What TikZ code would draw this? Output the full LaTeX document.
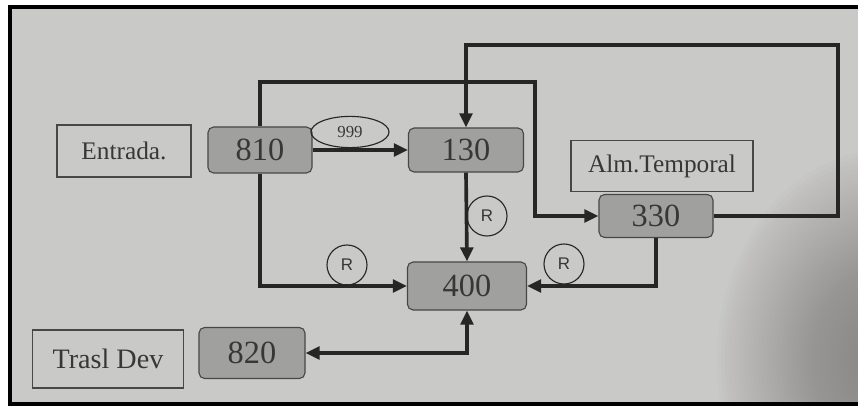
\documentclass[tikz,border=0pt]{standalone}
\usepackage{fontspec}
\setmainfont{Liberation Serif}
\newfontfamily\rfont{Liberation Sans}
\usetikzlibrary{arrows.meta,shapes.geometric}
\definecolor{paper}{RGB}{201,201,199}
\definecolor{shadow}{RGB}{110,108,107}
\definecolor{boxgray}{RGB}{160,160,158}
\definecolor{ink}{RGB}{38,38,38}
\definecolor{txt}{RGB}{55,55,55}

\begin{document}
\begin{tikzpicture}[x=0.025cm,y=-0.025cm,
 every node/.style={text=txt},
 namebox/.style={draw=ink!85,line width=0.8pt,fill=paper,minimum height=1.3cm,font=\fontsize{18}{18}\selectfont},
 box/.style={rounded corners=4pt,draw=ink!85,line width=0.8pt,fill=boxgray,minimum height=1.15cm,font=\fontsize{23}{23}\selectfont},
 rcircle/.style={circle,draw=ink,line width=0.8pt,minimum size=1.0cm,inner sep=0pt,font=\rfont\fontsize{12}{12}\selectfont},
 arrow/.style={>={Triangle[length=10pt,width=9pt]},->,line width=2.6pt,draw=ink}]
% paper and frame
\useasboundingbox (0,0) rectangle (858,407);
\fill[white] (0,0) rectangle (858,407);
\fill[paper] (10,7) rectangle (858,404);
\begin{scope}
\clip (10,7) rectangle (858,404);
\foreach \r in {210,205,...,20}
  \fill[shadow,opacity=0.022] (885,360) ellipse ({\r*0.8} and \r);
\end{scope}
\draw[black,line width=3pt] (858,7) -- (10,7) -- (10,404) -- (858,404);
% boxes
\node[namebox,minimum width=3.35cm] (entrada) at (124,151) {Entrada.};
\node[box,minimum width=2.6cm] (n810) at (260,150) {810};
\node[box,minimum width=2.875cm,minimum height=1.1cm] (n130) at (466,150) {130};
\node[namebox,minimum width=4.55cm,minimum height=1.275cm] (almtemp) at (662,166) {Alm.Temporal};
\node[box,minimum width=2.85cm,minimum height=1.075cm] (n330) at (656,216) {330};
\node[box,minimum width=2.975cm,minimum height=1.2cm] (n400) at (467,286) {400};
\node[namebox,minimum width=3.775cm,minimum height=1.45cm,font=\fontsize{20}{20}\selectfont] (trasl) at (108,359) {Trasl Dev};
\node[box,minimum width=2.65cm,minimum height=1.275cm] (n820) at (252,353) {820};
% labels on the lines
\node[ellipse,draw=ink,line width=0.8pt,minimum width=1.95cm,minimum height=0.78cm,inner sep=0pt,font=\fontsize{12}{12}\selectfont] (e999) at (350,132) {999};
\node[rcircle] (rA) at (347,265) {R};
\node[rcircle] (rB) at (487,216) {R};
\node[rcircle] (rC) at (564,264) {R};
% connectors
\coordinate (upA) at (535,82);
\coordinate (upB) at (838,45);
\draw[arrow] (n810.east) -- (n130.west);
\draw[arrow] (n810.north) |- (upA) |- (n330.west);
\draw[arrow] (n810.south) |- (n400.west);
\draw[arrow] (n330.east) -| (upB) -| (n130.north);
\draw[arrow] (n130.south) -- (n400.north);
\draw[arrow] (n330.south) |- (n400.east);
\draw[arrow,<->] (n820.east) -| (n400.south);
\end{tikzpicture}
\end{document}
